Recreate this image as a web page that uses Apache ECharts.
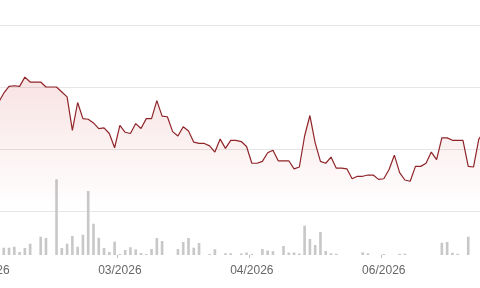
<!DOCTYPE html>
<html>
<head>
<meta charset="utf-8">
<style>
  html, body { margin: 0; padding: 0; background: #fff; overflow: hidden; width: 480px; height: 288px; }
  /* 图表比窗口略宽，两端的交易日落在窗口外 */
  #echarts { position: absolute; left: -20px; top: 0; width: 512px; height: 288px; }
</style>
<script src="https://cdn.jsdelivr.net/npm/echarts@6/dist/echarts.min.js"></script>
</head>
<body>
<div id="echarts"></div>
<script>
    // 收盘价 (按交易日)
    var prices = [
        56.4, 56.0, 56.7, 57.5,
        59.0, 60.1, 60.2, 60.1, 61.6, 60.8, 60.8, 60.8, 60.0, 60.0,
        60.0, 59.2, 58.4, 53.0, 57.5, 54.9, 54.8, 54.2, 53.3, 53.4,
        52.5, 50.2, 53.8, 52.7, 52.5, 54.1, 53.3, 54.9, 54.9, 57.8,
        55.3, 55.2, 52.8, 52.1, 53.6, 52.9, 51.1, 50.9, 50.9, 50.5,
        49.5, 51.6, 50.1, 51.4, 51.4, 51.2, 50.4, 47.7, 47.7, 48.0,
        49.4, 49.8, 48.1, 48.1, 48.1, 46.8, 47.1, 52.1, 55.4, 51.0,
        48.0, 47.7, 48.7, 46.9, 46.9, 46.8, 45.2, 45.6, 45.6, 45.8,
        45.8, 45.1, 45.2, 46.7, 49.0, 46.2, 45.0, 44.8, 47.2, 47.2,
        47.7, 49.5, 48.3, 51.8, 51.8, 51.4, 51.4, 51.4, 47.2, 47.1,
        51.6, 52.8, 52.3
    ];
    // 成交量
    var volumes = [
        6, 9, 5, 8,
        7.3, 7.3, 8.3, 3, 7, 11.3, 0, 18.3, 17, 0,
        75.7, 7, 11.3, 19, 8.3, 20.3, 64, 31.3, 17.3, 7,
        3, 13.3, 1, 5, 7.7, 5.7, 2, 1, 6, 17,
        14, 0, 0, 6, 13, 17, 7.3, 12, 0, 1,
        5.7, 0, 1.7, 1.7, 0, 1.5, 2.5, 1, 0, 6,
        4.5, 3.8, 0, 9, 2.5, 2.5, 1.5, 29.3, 16, 10,
        23, 4, 1.7, 1.3, 0, 0, 0, 0, 2.7, 1.7,
        0, 0, 1, 0, 0, 1.3, 1.3, 0, 0, 0,
        0, 0, 0, 12.3, 13, 2.3, 1.3, 0, 18.3, 0,
        0, 7, 5
    ];
    // 交易日序号
    var days = [];
    for (var i = 0; i < prices.length; i++) {
        days.push('D' + (i + 1));
    }
    // x轴刻度 (交易日序号 -> 月份)
    var tickIndex = [1, 26, 51, 76];
    var tickLabels = ['02/2026', '03/2026', '04/2026', '06/2026'];

    function isTick(idx) {
        return tickIndex.indexOf(idx) >= 0;
    }

    var myecharts = echarts.init(document.getElementById('echarts'));
    var option = {
        animation: false,
        // outerBoundsMode none: 标签超出画布时不压缩网格
        grid: [
            { left: 0, right: 0, top: 25, height: 186, outerBoundsMode: 'none' },
            { left: 0, right: 0, top: 155, height: 100, outerBoundsMode: 'none' }
        ],
        xAxis: [
            {
                type: 'category', gridIndex: 0, data: days,
                axisLine: { show: false }, axisTick: { show: false }, axisLabel: { show: false }
            },
            {
                type: 'category', gridIndex: 1, data: days,
                axisLine: { show: false },
                axisTick: { show: true, interval: isTick, length: 3, lineStyle: { color: '#bbb' } },
                axisLabel: {
                    interval: isTick,
                    margin: 10,
                    color: '#666',
                    fontSize: 12,
                    fontFamily: 'Liberation Sans',
                    formatter: function (val, idx) {
                        var p = tickIndex.indexOf(idx);
                        return p >= 0 ? tickLabels[p] : '';
                    }
                }
            }
        ],
        yAxis: [
            {
                type: 'value', gridIndex: 0, min: 40, max: 70, interval: 10,
                axisLine: { show: false }, axisTick: { show: false }, axisLabel: { show: false },
                splitLine: { lineStyle: { color: '#e6e6e6' } }
            },
            {
                type: 'value', gridIndex: 1, min: 0, max: 100,
                show: false, splitLine: { show: false }
            }
        ],
        series: [
            {
                name: '成交量',
                type: 'bar',
                xAxisIndex: 1, yAxisIndex: 1,
                data: volumes,
                barWidth: '50%',
                itemStyle: { color: '#c8c8c8' }
            },
            {
                name: '价格',
                type: 'line',
                xAxisIndex: 0, yAxisIndex: 0,
                data: prices,
                symbol: 'none',
                lineStyle: { color: '#8f2429', width: 1.2 },
                areaStyle: {
                    color: new echarts.graphic.LinearGradient(0, 0, 0, 1, [
                        { offset: 0, color: 'rgba(200,30,30,0.18)' },
                        { offset: 1, color: 'rgba(200,30,30,0)' }
                    ])
                }
            }
        ]
    };
    myecharts.setOption(option);
</script>
</body>
</html>
